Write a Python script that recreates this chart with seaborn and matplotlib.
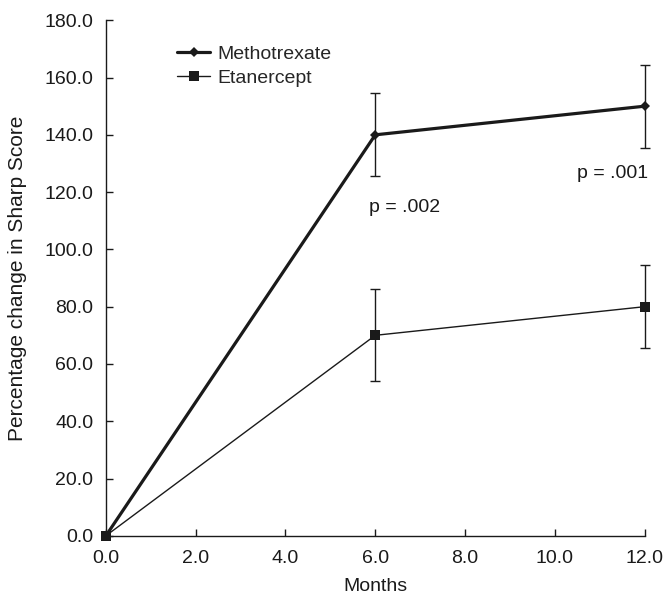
import seaborn as sns
import matplotlib.pyplot as plt
import pandas as pd

sns.set_theme(style="ticks")
plt.rcParams["font.family"] = ["Liberation Sans", "DejaVu Sans"]

months = [0, 6, 12]
methotrexate = [0, 140, 150]
methotrexate_err = [0, 14.5, 14.5]
etanercept = [0, 70, 80]
etanercept_err = [0, 16, 14.6]
p_labels = ["p = .002", "p = .001"]
p_label_pos = [(6.66, 114.5), (11.29, 126.5)]

data = pd.concat([
    pd.DataFrame({"month": months, "score": methotrexate, "drug": "Methotrexate"}),
    pd.DataFrame({"month": months, "score": etanercept, "drug": "Etanercept"}),
])

ink = "#1a1a1a"
fig, ax = plt.subplots(figsize=(6.66, 5.96), dpi=100)
fig.subplots_adjust(left=0.159, right=0.968, bottom=0.101, top=0.966)

sns.lineplot(data=data[data["drug"] == "Methotrexate"], x="month", y="score",
             color=ink, linewidth=2.3, marker="D", markersize=5,
             markeredgewidth=0, label="Methotrexate", ax=ax, clip_on=False)
sns.lineplot(data=data[data["drug"] == "Etanercept"], x="month", y="score",
             color=ink, linewidth=1.0, marker="s", markersize=7.5,
             markeredgewidth=0, label="Etanercept", ax=ax, clip_on=False)

for vals, errs in [(methotrexate, methotrexate_err), (etanercept, etanercept_err)]:
    bars = ax.errorbar(months[1:], vals[1:], yerr=errs[1:], fmt="none",
                       ecolor=ink, elinewidth=1.0, capsize=3.5, capthick=1.0)
    for artist in bars.lines[1] + bars.lines[2]:
        artist.set_clip_on(False)

for text, (x, y) in zip(p_labels, p_label_pos):
    ax.text(x, y, text, ha="center", va="center", fontsize=14, color=ink)

ax.set_xlim(0, 12)
ax.set_ylim(0, 180)
ax.set_xticks(range(0, 13, 2))
ax.set_xticklabels([f"{v:.1f}" for v in range(0, 13, 2)])
ax.set_yticks(range(0, 181, 20))
ax.set_yticklabels([f"{v:.1f}" for v in range(0, 181, 20)])
ax.tick_params(direction="in", length=5, width=1.0, labelsize=14, colors=ink)
ax.tick_params(axis="y", pad=9)
ax.tick_params(axis="x", pad=10)
ax.set_xlabel("Months", fontsize=14, color=ink)
ax.set_ylabel("Percentage change in Sharp Score", fontsize=15, color=ink)
ax.xaxis.set_label_coords(0.5, -0.082)
ax.yaxis.set_label_coords(-0.146, 0.5)
for side in ["left", "bottom"]:
    ax.spines[side].set_linewidth(1.0)
    ax.spines[side].set_color(ink)
sns.despine(ax=ax)

ax.legend(loc="upper left", bbox_to_anchor=(0.1, 0.985), frameon=False,
          fontsize=14, handlelength=1.7, handletextpad=0.36, labelspacing=0.3)

fig.savefig("out.png", dpi=100)
